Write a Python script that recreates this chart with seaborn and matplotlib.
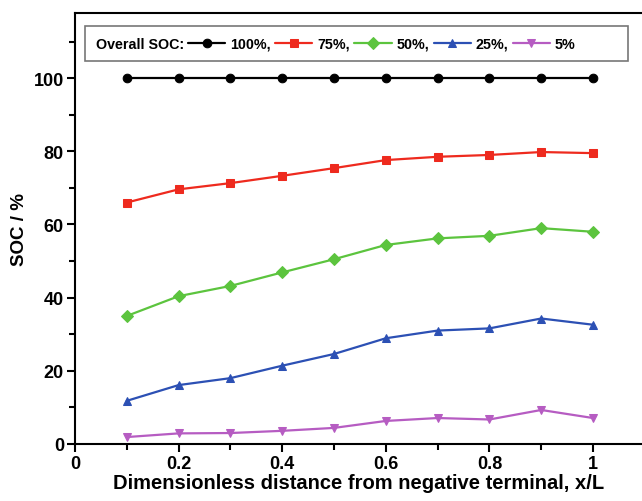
import matplotlib
matplotlib.use("Agg")
import matplotlib.pyplot as plt
import seaborn as sns
import pandas as pd
from matplotlib.lines import Line2D
from matplotlib.ticker import MultipleLocator

x_vals = [0.1, 0.2, 0.3, 0.4, 0.5, 0.6, 0.7, 0.8, 0.9, 1.0]
soc_100 = [100, 100, 100, 100, 100, 100, 100, 100, 100, 100]
soc_75 = [66.0, 69.6, 71.3, 73.3, 75.4, 77.6, 78.5, 79.0, 79.8, 79.5]
soc_50 = [35.0, 40.4, 43.2, 46.9, 50.5, 54.4, 56.2, 56.9, 59.0, 58.0]
soc_25 = [11.8, 16.1, 18.0, 21.4, 24.6, 28.9, 31.0, 31.6, 34.3, 32.6]
soc_5 = [1.9, 2.9, 3.0, 3.6, 4.4, 6.3, 7.1, 6.7, 9.3, 7.1]

series_labels = ["100%", "75%", "50%", "25%", "5%"]
series_values = [soc_100, soc_75, soc_50, soc_25, soc_5]
colors = ["#000000", "#ee2a1e", "#5cc43e", "#2c50b4", "#b65cc2"]
markers = ["o", "s", "D", "^", "v"]
msizes = [6.2, 5.6, 5.8, 6.2, 6.2]

sns.set_style("ticks")
plt.rcParams["font.family"] = ["Liberation Sans", "DejaVu Sans"]
plt.rcParams["font.weight"] = "bold"
plt.rcParams["text.color"] = "black"
plt.rcParams["axes.labelcolor"] = "black"
plt.rcParams["xtick.color"] = "black"
plt.rcParams["ytick.color"] = "black"
plt.rcParams["axes.edgecolor"] = "black"

fig = plt.figure(figsize=(6.42, 5.02), dpi=100)
ax = fig.add_axes([75 / 642, 1 - 445 / 502, 1 - 75 / 642, (445 - 14) / 502])

for lab, vals, c, m, ms in zip(series_labels, series_values, colors, markers, msizes):
    df = pd.DataFrame({"x": x_vals, "y": vals})
    sns.lineplot(data=df, x="x", y="y", ax=ax, color=c, marker=m, markersize=ms,
                 markeredgecolor=c, linewidth=1.6, label=lab)

ax.set_xlim(0, (642 - 75) / 518)
ax.set_ylim(0, 117.8)
ax.xaxis.set_minor_locator(MultipleLocator(0.1))
ax.yaxis.set_major_locator(MultipleLocator(20))
ax.yaxis.set_minor_locator(MultipleLocator(10))
ax.set_xticks([0, 0.2, 0.4, 0.6, 0.8, 1.0])
ax.set_xticklabels(["0", "0.2", "0.4", "0.6", "0.8", "1"])
ax.tick_params(axis="both", which="major", direction="out", length=6, width=1.5,
               labelsize=13, pad=2)
ax.tick_params(axis="both", which="minor", direction="out", length=4, width=1.5)
for lbl in ax.get_xticklabels() + ax.get_yticklabels():
    lbl.set_fontweight("bold")

ax.set_xlabel("Dimensionless distance from negative terminal, x/L", fontsize=14.5,
              fontweight="bold", labelpad=1)
ax.set_ylabel("SOC / %", fontsize=13.5, fontweight="bold", labelpad=4)

for s in ["left", "bottom", "top"]:
    ax.spines[s].set_linewidth(1.5)
ax.spines["right"].set_visible(False)

lines = ax.get_lines()
handles = list(lines[:5]) + [Line2D([], [], linestyle="none")]
labels = ["Overall SOC:", "100%,", "75%,", "50%,", "25%,", "5%"]
leg = ax.legend(handles, labels, ncol=6, markerfirst=False, loc="upper left",
                bbox_to_anchor=(10 / 567, (445 - 27) / 431), borderaxespad=0,
                frameon=True, fancybox=False,
                edgecolor="#555555", handlelength=2.6,
                columnspacing=0.35, handletextpad=0.3, borderpad=0.75,
                prop={"weight": "bold", "size": 10.3})
leg.get_frame().set_linewidth(1.2)

fig.savefig("out.png", dpi=100)
